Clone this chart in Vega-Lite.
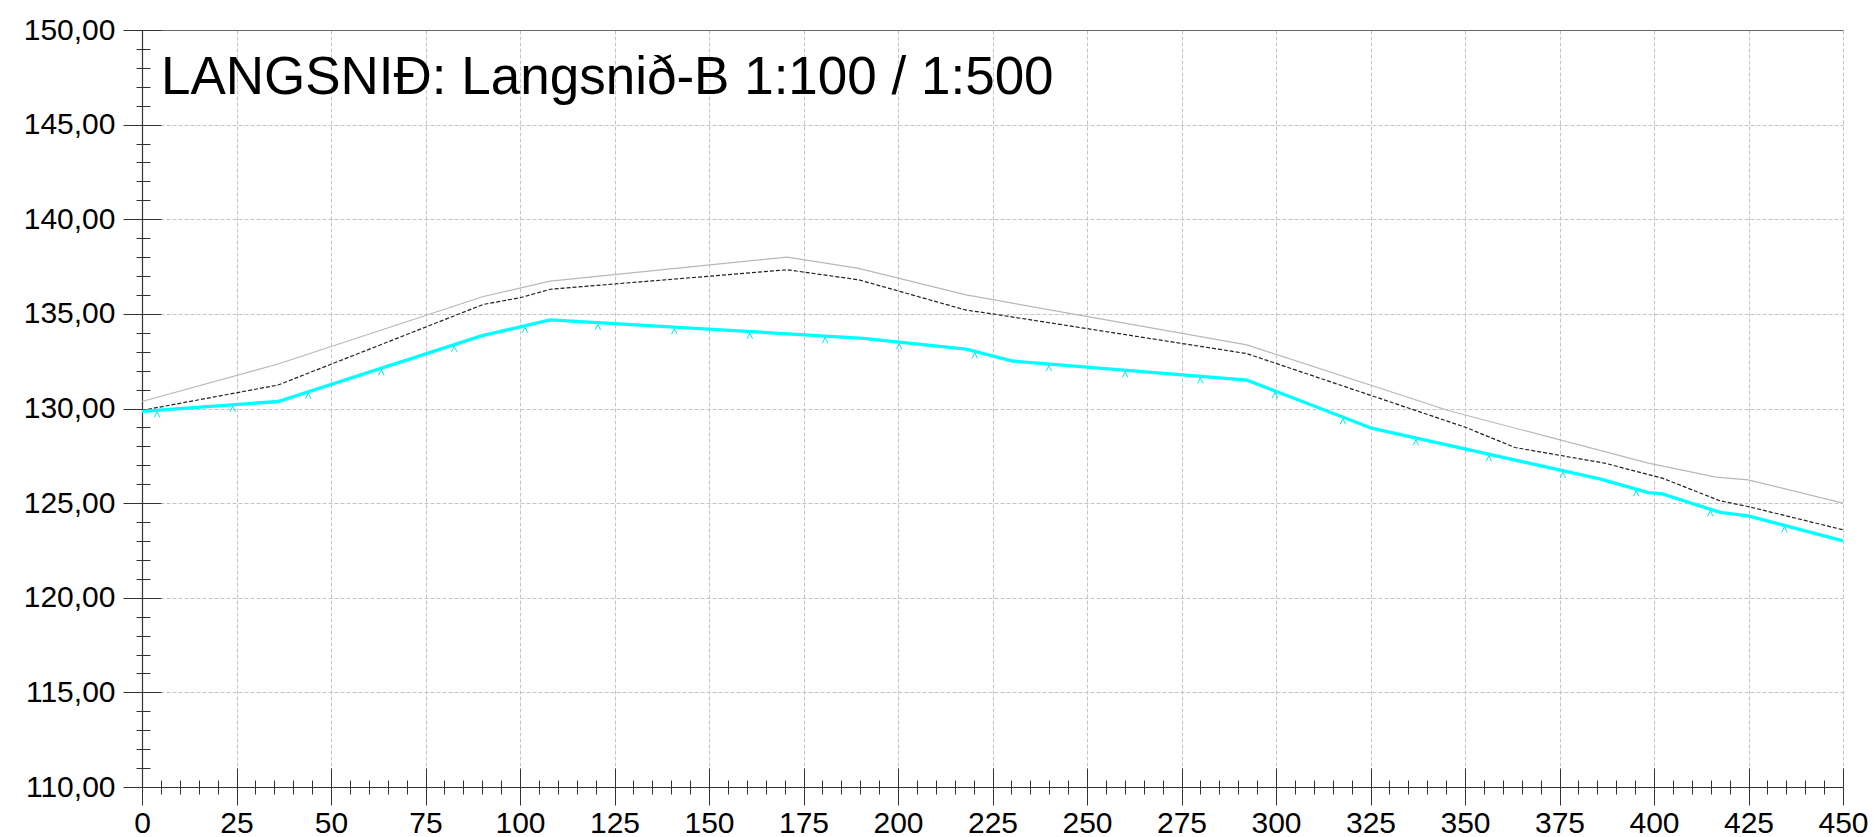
{
  "$schema": "https://vega.github.io/schema/vega-lite/v6.json",
  "width": 1701,
  "height": 757,
  "autosize": "none",
  "padding": {"left": 142, "top": 30, "right": 32, "bottom": 50},
  "background": "white",
  "config": {
    "view": {"stroke": null},
    "font": "Liberation Sans"
  },
  "datasets": {
    "gray": [
      {"st": 0, "h": 130.37}, {"st": 36, "h": 132.35}, {"st": 90.3, "h": 135.92}, {"st": 108, "h": 136.73},
      {"st": 170.7, "h": 138.0}, {"st": 189.6, "h": 137.4}, {"st": 218, "h": 136.0}, {"st": 292.3, "h": 133.36},
      {"st": 345.8, "h": 129.88}, {"st": 398.5, "h": 127.11}, {"st": 416.4, "h": 126.37}, {"st": 424.9, "h": 126.23},
      {"st": 450, "h": 125.0}
    ],
    "black": [
      {"st": 0, "h": 129.9}, {"st": 36, "h": 131.24}, {"st": 90.3, "h": 135.5}, {"st": 100, "h": 135.85},
      {"st": 108, "h": 136.3}, {"st": 170.7, "h": 137.33}, {"st": 189.6, "h": 136.8}, {"st": 218, "h": 135.2},
      {"st": 225, "h": 135.0}, {"st": 292.3, "h": 132.9}, {"st": 350.1, "h": 129.01}, {"st": 363.2, "h": 127.94},
      {"st": 387, "h": 127.11}, {"st": 402.2, "h": 126.32}, {"st": 417.5, "h": 125.12}, {"st": 424.9, "h": 124.82},
      {"st": 450, "h": 123.59}
    ],
    "cyan": [
      {"st": 0, "h": 129.85}, {"st": 36, "h": 130.37}, {"st": 90, "h": 133.85}, {"st": 108, "h": 134.68},
      {"st": 190.8, "h": 133.71}, {"st": 218, "h": 133.14}, {"st": 230.3, "h": 132.51}, {"st": 292.3, "h": 131.5},
      {"st": 325.3, "h": 128.96}, {"st": 385.9, "h": 126.27}, {"st": 398.5, "h": 125.56}, {"st": 402.2, "h": 125.49},
      {"st": 417.5, "h": 124.51}, {"st": 424.9, "h": 124.33}, {"st": 450, "h": 123.01}
    ],
    "marks": [
      {"st": 4, "h": 129.68}, {"st": 24, "h": 129.97}, {"st": 44, "h": 130.66}, {"st": 63.3, "h": 131.9},
      {"st": 82.6, "h": 133.14}, {"st": 101.3, "h": 134.14}, {"st": 120.6, "h": 134.3}, {"st": 140.8, "h": 134.07},
      {"st": 160.8, "h": 133.83}, {"st": 180.7, "h": 133.6}, {"st": 200.3, "h": 133.28}, {"st": 220.3, "h": 132.79},
      {"st": 239.9, "h": 132.12}, {"st": 260.1, "h": 131.79}, {"st": 280, "h": 131.47}, {"st": 299.7, "h": 130.7},
      {"st": 317.7, "h": 129.31}, {"st": 337, "h": 128.21}, {"st": 356.3, "h": 127.35}, {"st": 375.9, "h": 126.48},
      {"st": 395.3, "h": 125.51}, {"st": 414.9, "h": 124.45}, {"st": 434.5, "h": 123.6}
    ],
    "title": [{"st": 5, "h": 146.6, "t": "LANGSNIÐ: Langsnið-B 1:100 / 1:500"}]
  },
  "resolve": {"axis": {"x": "independent", "y": "independent"}},
  "layer": [
    {
      "data": {"name": "gray"},
      "mark": {"type": "line", "color": "#b8b8b8", "strokeWidth": 1.2},
      "encoding": {
        "x": {
          "field": "st", "type": "quantitative",
          "scale": {"domain": [0, 450], "nice": false, "zero": false},
          "axis": {
            "orient": "bottom", "title": null,
            "values": [0,5,10,15,20,25,30,35,40,45,50,55,60,65,70,75,80,85,90,95,100,105,110,115,120,125,130,135,140,145,150,155,160,165,170,175,180,185,190,195,200,205,210,215,220,225,230,235,240,245,250,255,260,265,270,275,280,285,290,295,300,305,310,315,320,325,330,335,340,345,350,355,360,365,370,375,380,385,390,395,400,405,410,415,420,425,430,435,440,445,450],
            "labelExpr": "datum.value % 25 === 0 ? datum.label : ''",
            "format": "d",
            "labelFont": "Liberation Sans", "labelFontSize": 30, "labelColor": "#000",
            "labelPadding": 3, "labelOverlap": false, "labelFlush": false, "labelBound": false,
            "tickColor": "#333", "tickWidth": 1,
            "tickSize": {"condition": {"test": "datum.value % 25 === 0", "value": 18}, "value": 7},
            "domainColor": "#333", "domainWidth": 1.2,
            "grid": true, "gridColor": "#c4c4c4", "gridDash": [4, 2], "gridWidth": 1,
            "gridOpacity": {"condition": {"test": "datum.value % 25 !== 0", "value": 0}, "value": 1}
          }
        },
        "y": {
          "field": "h", "type": "quantitative",
          "scale": {"domain": [110, 150], "nice": false, "zero": false},
          "axis": {
            "orient": "left", "title": null,
            "values": [110,111,112,113,114,115,116,117,118,119,120,121,122,123,124,125,126,127,128,129,130,131,132,133,134,135,136,137,138,139,140,141,142,143,144,145,146,147,148,149,150],
            "labelExpr": "datum.value % 5 === 0 ? replace(format(datum.value, '.2f'), '.', ',') : ''",
            "labelFont": "Liberation Sans", "labelFontSize": 30, "labelColor": "#000",
            "labelPadding": 8, "labelOverlap": false, "labelFlush": false, "labelBound": false,
            "tickColor": "#333", "tickWidth": 1,
            "tickSize": {"condition": {"test": "datum.value % 5 === 0", "value": 19}, "value": 6},
            "domainColor": "#333", "domainWidth": 1.2,
            "grid": true, "gridWidth": 1,
            "gridColor": {"condition": {"test": "datum.value === 150", "value": "#666"}, "value": "#c4c4c4"},
            "gridDash": {"condition": {"test": "datum.value === 150", "value": []}, "value": [4, 2]},
            "gridOpacity": {"condition": {"test": "datum.value % 5 !== 0", "value": 0}, "value": 1}
          }
        }
      }
    },
    {
      "data": {"name": "black"},
      "mark": {"type": "line", "color": "#222", "strokeWidth": 1.2, "strokeDash": [4, 2]},
      "encoding": {
        "x": {
          "field": "st", "type": "quantitative",
          "axis": {
            "orient": "bottom", "title": null, "labels": false, "domain": false, "grid": false,
            "values": [0,5,10,15,20,25,30,35,40,45,50,55,60,65,70,75,80,85,90,95,100,105,110,115,120,125,130,135,140,145,150,155,160,165,170,175,180,185,190,195,200,205,210,215,220,225,230,235,240,245,250,255,260,265,270,275,280,285,290,295,300,305,310,315,320,325,330,335,340,345,350,355,360,365,370,375,380,385,390,395,400,405,410,415,420,425,430,435,440,445,450],
            "tickColor": "#333", "tickWidth": 1,
            "tickSize": {"condition": {"test": "datum.value % 25 === 0", "value": -19}, "value": -7}
          }
        },
        "y": {
          "field": "h", "type": "quantitative",
          "axis": {
            "orient": "left", "title": null, "labels": false, "domain": false, "grid": false,
            "values": [110,111,112,113,114,115,116,117,118,119,120,121,122,123,124,125,126,127,128,129,130,131,132,133,134,135,136,137,138,139,140,141,142,143,144,145,146,147,148,149,150],
            "tickColor": "#333", "tickWidth": 1,
            "tickSize": {"condition": {"test": "datum.value % 5 === 0", "value": -19}, "value": -8}
          }
        }
      }
    },
    {
      "data": {"name": "cyan"},
      "mark": {"type": "line", "color": "#00ffff", "strokeWidth": 3.3},
      "encoding": {
        "x": {"field": "st", "type": "quantitative", "axis": null},
        "y": {"field": "h", "type": "quantitative", "axis": null}
      }
    },
    {
      "data": {"name": "marks"},
      "mark": {"type": "point", "shape": "M-1,1L0,-1L1,1", "filled": false, "color": "#00e6e6", "strokeWidth": 1, "size": 30, "opacity": 1},
      "encoding": {
        "x": {"field": "st", "type": "quantitative", "axis": null},
        "y": {"field": "h", "type": "quantitative", "axis": null}
      }
    },
    {
      "data": {"name": "title"},
      "mark": {"type": "text", "align": "left", "baseline": "alphabetic", "font": "Liberation Sans", "fontSize": 53, "color": "#000"},
      "encoding": {
        "x": {"field": "st", "type": "quantitative", "axis": null},
        "y": {"field": "h", "type": "quantitative", "axis": null},
        "text": {"field": "t"}
      }
    }
  ]
}
